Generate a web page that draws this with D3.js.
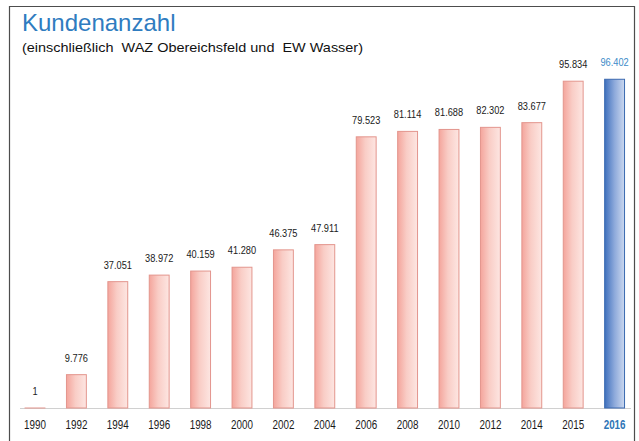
<!DOCTYPE html>
<html>
<head>
<meta charset="utf-8">
<script src="https://cdn.jsdelivr.net/npm/d3@7"></script>
<style>
  body { margin: 0; background: #fff; }
  svg { display: block; font-family: Arial, "Liberation Sans", sans-serif; }
</style>
</head>
<body>
<div id="chart"></div>
<script>
// Daten
const years = ['1990', '1992', '1994', '1996', '1998', '2000', '2002', '2004',
               '2006', '2008', '2010', '2012', '2014', '2015', '2016'];
const customers = [1, 9776, 37051, 38972, 40159, 41280, 46375, 47911,
                   79523, 81114, 81688, 82302, 83677, 95834, 96402];
const highlightYear = '2016';

const width = 639, height = 441;
const baseY = 408;

const svg = d3.select('#chart')
    .append('svg')
    .attr('width', width)
    .attr('height', height);

// Verläufe
const defs = svg.append('defs');
function addGradient(id, stops) {
    const g = defs.append('linearGradient').attr('id', id)
        .attr('x1', '0%').attr('x2', '100%').attr('y1', '0%').attr('y2', '0%');
    stops.forEach(s => g.append('stop').attr('offset', s[0]).attr('stop-color', s[1]));
}
addGradient('grad-red', [['0%', '#f4a59c'], ['45%', '#f9cdc6'], ['100%', '#fde6e2']]);
addGradient('grad-blue', [['0%', '#3f70bd'], ['50%', '#8eaadb'], ['100%', '#cbd8ef']]);

// Rahmen
svg.append('path')
    .attr('d', `M9.5,${height} V6.5 H634.5 V${height}`)
    .attr('fill', 'none')
    .attr('stroke', '#4d4d4d')
    .attr('stroke-width', 1.2);

// Titel
svg.append('text')
    .attr('x', 22).attr('y', 31)
    .attr('font-size', '24px')
    .attr('fill', '#2f7cc0')
    .text('Kundenanzahl');

svg.append('text')
    .attr('x', 22).attr('y', 52)
    .attr('font-size', '13.5px')
    .attr('fill', '#111')
    .attr('textLength', 341)
    .attr('lengthAdjust', 'spacingAndGlyphs')
    .style('white-space', 'pre')
    .text('(einschließlich  WAZ Obereichsfeld und  EW Wasser)');

// Skalen
const x = d3.scaleBand()
    .domain(years)
    .range([14.3, 635.3])
    .paddingInner(0.52)
    .paddingOuter(0.26);

const y = d3.scaleLinear()
    .domain([0, 100000])
    .range([baseY, baseY - 341]);

const de = d3.formatLocale({ decimal: ',', thousands: '.', grouping: [3], currency: ['', '€'] });
const fmt = de.format(',d');

// Grundlinie
svg.append('line')
    .attr('x1', 20).attr('x2', 631)
    .attr('y1', baseY + 0.5).attr('y2', baseY + 0.5)
    .attr('stroke', '#d0d0d0')
    .attr('stroke-width', 1);

// Balken
const data = years.map((yr, i) => ({ year: yr, value: customers[i] }));

svg.selectAll('.bar')
    .data(data)
    .join('rect')
    .attr('class', 'bar')
    .attr('x', d => x(d.year))
    .attr('y', d => y(d.value))
    .attr('width', x.bandwidth())
    .attr('height', d => baseY - y(d.value))
    .attr('fill', d => d.year === highlightYear ? 'url(#grad-blue)' : 'url(#grad-red)')
    .attr('stroke', d => d.year === highlightYear ? '#3b69b0' : '#e3958d')
    .attr('stroke-width', 1);

// Werte
svg.selectAll('.val')
    .data(data)
    .join('text')
    .attr('class', 'val')
    .attr('x', d => x(d.year) + x.bandwidth() / 2)
    .attr('y', d => y(d.value) - 13)
    .attr('text-anchor', 'middle')
    .attr('font-size', '10.5px')
    .attr('fill', d => d.year === highlightYear ? '#3d8bc9' : '#1a1a1a')
    .text(d => fmt(d.value))
    .each(function () {
        const w = this.getComputedTextLength();
        d3.select(this).attr('textLength', w * 0.88).attr('lengthAdjust', 'spacingAndGlyphs');
    });

// X-Achse
const xAxis = svg.append('g')
    .attr('transform', `translate(0,${baseY})`)
    .call(d3.axisBottom(x).tickSize(0).tickPadding(12.5));
xAxis.select('.domain').remove();
xAxis.selectAll('text')
    .attr('font-size', '12px')
    .attr('font-family', 'Arial, "Liberation Sans", sans-serif')
    .attr('fill', d => d === highlightYear ? '#2e75b6' : '#1a1a1a')
    .attr('font-weight', d => d === highlightYear ? 'bold' : 'normal')
    .each(function () {
        const w = this.getComputedTextLength();
        d3.select(this).attr('textLength', w * 0.82).attr('lengthAdjust', 'spacingAndGlyphs');
    });
</script>
</body>
</html>
